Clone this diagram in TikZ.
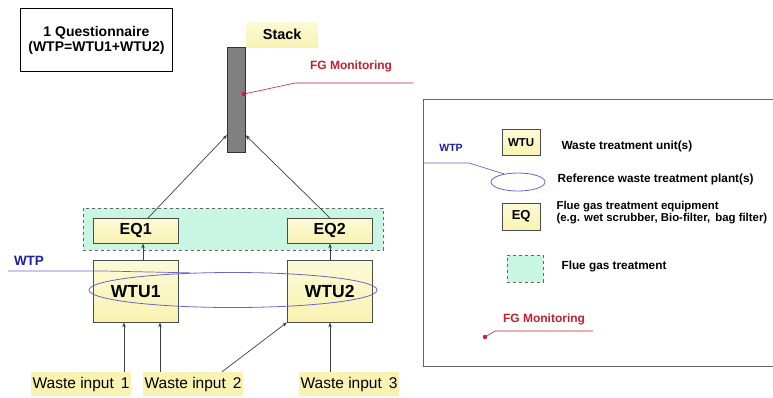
\documentclass[tikz,border=0pt]{standalone}
\usepackage{fontspec}
\setmainfont{Liberation Sans}
\usetikzlibrary{arrows.meta,shapes.geometric}
\definecolor{boxyellow}{RGB}{248,243,178}
\definecolor{boxyellowtop}{RGB}{252,250,215}
\definecolor{mint}{RGB}{200,246,226}
\definecolor{wtpblue}{RGB}{30,30,170}
\definecolor{ellblue}{RGB}{110,100,200}
\definecolor{fgred}{RGB}{200,30,45}
\definecolor{stackgray}{RGB}{128,128,128}
\tikzset{
  ybox/.style={draw=black!70, top color=boxyellowtop, bottom color=boxyellow, anchor=north west, inner sep=0pt, font=\bfseries\fontsize{16}{18}\selectfont},
  lbox/.style={draw=black!70, top color=boxyellowtop, bottom color=boxyellow, anchor=north west, inner sep=0pt, font=\bfseries\fontsize{11.5}{14}\selectfont},
  winput/.style={fill=boxyellow, inner sep=2pt, minimum height=24pt, font=\fontsize{15.5}{17}\selectfont},
  fgt/.style={draw=black!60, dashed, fill=mint, anchor=north west},
  arr/.style={-{Stealth[length=5pt,width=3.5pt]}, draw=black!75, line width=0.7pt},
  wtpl/.style={text=wtpblue, font=\bfseries\fontsize{13.5}{15}\selectfont},
  fgl/.style={text=fgred, font=\bfseries\fontsize{12}{14}\selectfont},
  legt/.style={anchor=west, font=\bfseries\fontsize{11.8}{13}\selectfont, align=left},
  ell/.style={draw=ellblue, line width=0.8pt, ellipse, inner sep=0pt},
}
\begin{document}
\begin{tikzpicture}[x=1pt,y=-1pt]
\useasboundingbox (0,0) rectangle (773,397);
\fill[white] (0,0) rectangle (773,397);
% questionnaire
\node[draw=black, line width=0.8pt, anchor=north west, minimum width=152pt, minimum height=63pt, align=center, font=\bfseries\fontsize{14}{15}\selectfont] (q) at (20,8) {1 Questionnaire\\(WTP=WTU1+WTU2)};
% stack
\node[top color=boxyellowtop, bottom color=boxyellow, anchor=north west, minimum width=72pt, minimum height=25pt, inner sep=0pt, font=\bfseries\fontsize{14.5}{16}\selectfont] (stacklbl) at (246,22) {Stack};
\node[draw=black!80, fill=stackgray, anchor=north west, minimum width=18pt, minimum height=105pt, inner sep=0pt] (stack) at (227,47) {};
% FG monitoring at stack
\node[fgl] (fgtext) at (351,66) {FG Monitoring};
\coordinate (fgdot) at (244,94);
\coordinate (fgbend) at (295,83);
\coordinate (fgend) at (413,83);
\draw[fgred, line width=0.6pt] (fgdot) -- (fgbend) -- (fgend);
\fill[fgred] (fgdot) circle (2.2pt);
% flue gas treatment box
\node[fgt, minimum width=300pt, minimum height=42pt] (fgbox) at (83,208) {};
\node[ybox, minimum width=85pt, minimum height=25pt] (eq1) at (93,218) {EQ1};
\node[ybox, minimum width=85pt, minimum height=25pt] (eq2) at (287,218) {EQ2};
% WTUs
\node[ybox, minimum width=85pt, minimum height=62pt, font=\bfseries\fontsize{17.5}{19}\selectfont] (wtu1) at (93,260) {WTU1};
\node[ybox, minimum width=85pt, minimum height=62pt, font=\bfseries\fontsize{17.5}{19}\selectfont] (wtu2) at (287,260) {WTU2};
% arrows
\draw[arr] (eq1.north -| 148,0) -- (stack.west |- 0,135);
\draw[arr] (eq2.north -| 330,0) -- (stack.east |- 0,135);
\draw[arr] (wtu1.north -| 143,0) -- (eq1.south -| 143,0);
\draw[arr] (wtu2.north -| 330,0) -- (eq2.south -| 330,0);
% ellipse WTP
\node[ell, minimum width=288pt, minimum height=35pt] (wtp) at (233,290) {};
\node[wtpl] (wtptext) at (29,261) {WTP};
\coordinate (wtpstart) at (8,271);
\coordinate (wtpbend) at (104,271);
\draw[ellblue, line width=0.7pt] (wtpstart) -- (wtpbend) -- (wtp.158);
% waste inputs
\node[winput] (w1) at (81,384) {Waste input\, 1};
\node[winput] (w2) at (193,384) {Waste input\, 2};
\node[winput] (w3) at (349,384) {Waste input\, 3};
\draw[arr] (w1.north -| 124,0) -- (wtu1.south -| 124,0);
\draw[arr] (w2.north -| 160,0) -- (wtu1.south -| 160,0);
\draw[arr] (w2.north -| 222,0) -- (wtu2.south west);
\draw[arr] (w3.north -| 330,0) -- (wtu2.south -| 330,0);
% legend (right side runs past the picture edge)
\node[draw=black!60, line width=0.7pt, anchor=north west, minimum width=365pt, minimum height=267pt] (legend) at (423,99) {};
\node[lbox, minimum width=38pt, minimum height=26pt] (lwtu) at (502,129) {WTU};
\node[legt] (lwtut) at (558,146) {Waste treatment unit(s)};
\node[wtpl, font=\bfseries\fontsize{10.5}{12}\selectfont] (lwtp) at (451,148) {WTP};
\node[ell, minimum width=54pt, minimum height=18pt] (lell) at (518,182) {};
\coordinate (lwtps) at (423,163);
\coordinate (lwtpb) at (469,163);
\draw[ellblue, line width=0.7pt] (lwtps) -- (lwtpb) -- (lell.150);
\node[legt] (lellt) at (554,179) {Reference waste treatment plant(s)};
\node[lbox, minimum width=38pt, minimum height=27pt, font=\bfseries\fontsize{13}{15}\selectfont] (leq) at (502,203) {EQ};
\node[legt, font=\bfseries\fontsize{11.4}{12}\selectfont] (leqt) at (553,213) {Flue gas treatment equipment\\(e.g. wet scrubber, Bio-filter,\, bag filter)};
\node[fgt, minimum width=36pt, minimum height=27pt] (lfg) at (507,255) {};
\node[legt] (lfgt) at (558,266) {Flue gas treatment};
\node[fgl] (lfgm) at (544,319) {FG Monitoring};
\coordinate (ldot) at (485,337);
\coordinate (lbend) at (495,331);
\coordinate (lend) at (593,331);
\draw[fgred, line width=0.6pt] (ldot) -- (lbend) -- (lend);
\fill[fgred] (ldot) circle (2.2pt);
\end{tikzpicture}
\end{document}
